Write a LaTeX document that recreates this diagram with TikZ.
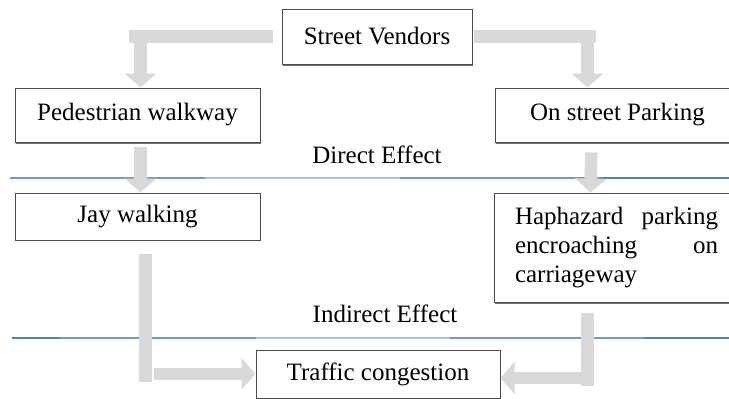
\documentclass[tikz,border=0pt]{standalone}
\usepackage{fontspec}
\setmainfont{Liberation Serif}
\usetikzlibrary{arrows.meta,shadows}
\definecolor{arrgray}{HTML}{D9D9D9}
\definecolor{bluedark}{HTML}{4F81BD}
\definecolor{bluemid}{HTML}{7399C6}
\definecolor{bluelight}{HTML}{A7C0DE}
\begin{document}
\begin{tikzpicture}[x=1pt,y=-1pt,
  every node/.style={font=\fontsize{25}{29}\selectfont},
  box/.style={draw=black!70, line width=1pt, fill=white, inner sep=0pt},
  shbox/.style={box, drop shadow={shadow xshift=1.2pt, shadow yshift=-2.2pt, fill=black!55, opacity=1}},
  bar/.style={draw=arrgray, line width=12.5pt},
  barrow/.style={bar, -{Triangle[width=31pt,length=14pt]}},
  lbl/.style={inner sep=0pt}
]
\useasboundingbox (0,0) rectangle (729,399);
\clip (0,0) rectangle (729,399);
\fill[white] (0,0) rectangle (729,399);

% effect lines
\draw[bluemid, line width=2.6pt] (10,178) -- (205,178);
\draw[bluelight, line width=2.6pt] (205,178) -- (400,178);
\draw[bluemid, line width=2.6pt] (400,178) -- (600,178);
\draw[bluedark, line width=2.6pt] (600,178) -- (729,178);

\draw[bluedark, line width=2.6pt] (12,338) -- (60,338);
\draw[bluemid, line width=2.6pt] (60,338) -- (256,338);
\draw[bluelight, line width=2.6pt] (256,338) -- (450,338);
\draw[bluemid, line width=2.6pt] (450,338) -- (644,338);
\draw[bluedark, line width=2.6pt] (644,338) -- (729,338);

\node[lbl] (de) at (377,155) {Direct Effect};
\node[lbl] (ie) at (385,314) {Indirect Effect};

% boxes
\node[shbox, minimum width=190pt, minimum height=55pt] (sv) at (377,36.5) {Street Vendors};
\node[shbox, minimum width=245pt, minimum height=54pt] (pw) at (137.5,115) {Pedestrian walkway};
\node[shbox, minimum width=245pt, minimum height=54pt] (osp) at (617.5,115) {On street Parking};
\node[box, minimum width=245pt, minimum height=47pt] (jw) at (137.5,216.5) {Jay walking};
\node[shbox, minimum width=245pt, minimum height=109pt, text width=203pt, align=justify] (hz) at (616.5,247.5)
  {\tolerance=10000 \hbadness=10000 Haphazard parking\linebreak encroaching on\linebreak carriageway\par};
\node[box, minimum width=244pt, minimum height=48pt] (tc) at (378,374) {Traffic congestion};

% connectors
\draw[bar, shorten <=9pt] (sv.west) -- ([xshift=-9pt]sv.west -| pw.north);
\draw[barrow] ([shift={(3,-45)}]pw.north) -- ([xshift=3pt]pw.north);
\draw[bar, shorten <=1pt] (sv.east) -- ([xshift=-22pt]sv.east -| osp.north);
\draw[barrow] ([shift={(-30,-45)}]osp.north) -- ([xshift=-30pt]osp.north);

\draw[barrow, shorten <=4pt] ([xshift=3pt]pw.south) -- ([xshift=3pt]jw.north);
\draw[barrow, shorten <=10pt] ([xshift=-26pt]osp.south) -- ([xshift=-26pt]hz.north);

\draw[bar] ([shift={(8,13)}]jw.south) -- ([shift={(8,8)}]jw.south |- tc.west);
\draw[barrow] ([xshift=-102pt]tc.west) -- (tc.west);
\draw[bar] ([shift={(-29,10)}]hz.south) -- ([shift={(-29,12)}]hz.south |- tc.east);
\draw[barrow] ([shift={(80,4)}]tc.east) -- ([shift={(0,4)}]tc.east);
\end{tikzpicture}
\end{document}
